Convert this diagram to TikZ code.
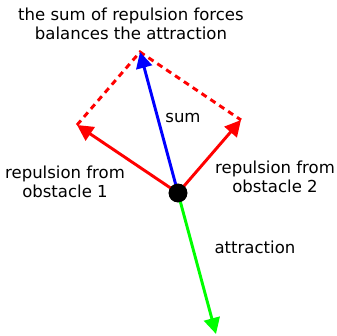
\documentclass[tikz,border=0pt]{standalone}
\usepackage{fontspec}
\setmainfont{DejaVu Sans}
\usepackage{tikz}
\usepackage{xcolor}
\usetikzlibrary{arrows.meta, positioning, calc}
\definecolor{cRep}{RGB}{255,0,0}
\definecolor{cSum}{RGB}{0,0,255}
\definecolor{cAtt}{RGB}{0,255,0}
\tikzset{
	force/.style    ={-{Triangle[length=12pt, width=12pt]}, line width=2.2pt},
	helper/.style   ={cRep, line width=2.2pt, dash pattern=on 4.5pt off 3.5pt},
	lbl/.style      ={align=center, inner sep=0pt, font=\fontsize{12.4}{14.5}\selectfont},
	point/.style    ={circle, fill=black, minimum size=14pt, inner sep=0pt},
}
\begin{document}
\begin{tikzpicture}[x=0.75pt, y=-0.75pt]
			\useasboundingbox (0,0) rectangle (337,336);
			% tips of the force vectors
			\coordinate (r1) at (77,125);
			\coordinate (r2) at (241,120);
			\coordinate (s) at (140,52);
			\coordinate (a) at (216,334);
			% parallelogram
			\draw[helper] (r1) -- (s) -- (r2);
			\node[point] (o) at (178,193) {};
			\draw[force, cAtt] (o.center) -- (a);
			\draw[force, cRep] (o.center) -- (r1);
			\draw[force, cRep] (o.center) -- (r2);
			\draw[force, cSum] (o.center) -- (s);
			\node[point] at (o) {};
			% labels
			\node[lbl] (title) at (131,24) {the sum of repulsion forces\\balances the attraction};
			\node[lbl] (lsum) at (183,118) {sum};
			\node[lbl] (lr1) at (65,182) {repulsion from\\obstacle 1};
			\node[lbl] (lr2) at (275,177) {repulsion from\\obstacle 2};
			\node[lbl] (latt) at (255,247) {attraction};
		\end{tikzpicture}
\end{document}
